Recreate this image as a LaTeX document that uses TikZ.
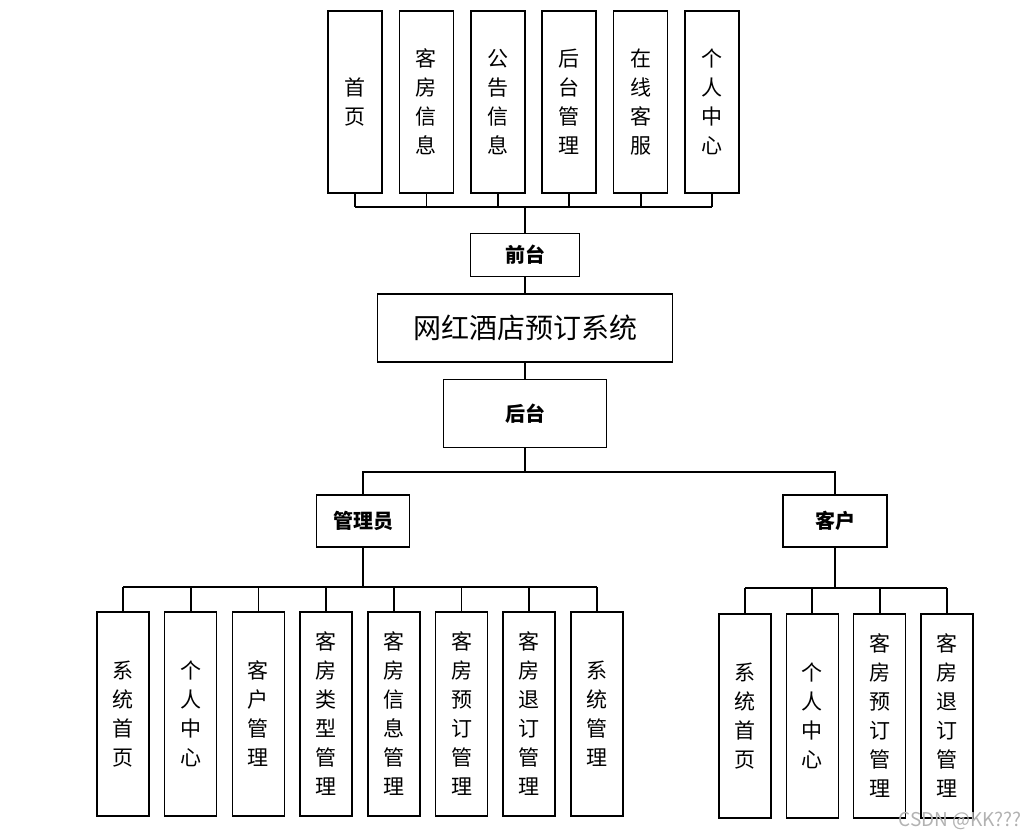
\documentclass[tikz,border=0pt]{standalone}
\usepackage{fontspec}
\setmainfont{Noto Sans CJK SC}
\usepackage{tikz}
\usetikzlibrary{positioning}
\usepackage{xcolor}

\begin{document}
\begin{tikzpicture}[
    x=1pt, y=-1pt,
    node distance=14.2pt and 14.2pt,
    boxLeaf/.style={
        rectangle,
        draw=black,
        line width=1.5pt,
        minimum width=52pt,
        minimum height=204pt,
        inner sep=0pt,
        align=center,
        font=\fontsize{21}{29}\selectfont
    },
    boxTop/.style={
        boxLeaf,
        minimum width=54pt,
        minimum height=182pt
    },
    boxRole/.style={
        rectangle,
        draw=black,
        line width=1.5pt,
        minimum height=52pt,
        inner sep=0pt,
        align=center,
        font=\bfseries\fontsize{20}{24}\selectfont
    },
    boxTitle/.style={
        rectangle,
        draw=black,
        line width=1.5pt,
        minimum width=295pt,
        minimum height=68pt,
        inner sep=0pt,
        font=\fontsize{28}{30}\selectfont
    },
    link/.style={line width=1.8pt},
    stem/.style={line width=2.8pt}
]
\useasboundingbox (0,0) rectangle (1028,838);

% Centre of the tree
\node[boxTitle] (sys) at (525,328) {网红酒店预订系统};
\node[boxRole, minimum width=109pt, minimum height=43pt, above=16pt of sys] (front) {前台};
\node[boxRole, minimum width=163pt, minimum height=68pt, below=16pt of sys] (back) {后台};

% Front row
\node[boxTop] (home) at (355,102) {首\\页};
\node[boxTop, right=15.9pt of home] (room) {客\\房\\信\\息};
\node[boxTop, right=15.9pt of room] (notice) {公\\告\\信\\息};
\node[boxTop, right=15.9pt of notice] (admin) {后\\台\\管\\理};
\node[boxTop, right=15.9pt of admin] (service) {在\\线\\客\\服};
\node[boxTop, right=15.9pt of service] (mine) {个\\人\\中\\心};

% Roles
\node[boxRole, minimum width=93pt] (mgr) at (363,521) {管理员};
\node[boxRole, minimum width=104pt] (cust) at (835,521) {客户};

% Manager row
\node[boxLeaf] (m1) at (123,714) {系\\统\\首\\页};
\node[boxLeaf, right=of m1] (m2) {个\\人\\中\\心};
\node[boxLeaf, right=of m2] (m3) {客\\户\\管\\理};
\node[boxLeaf, right=of m3] (m4) {客\\房\\类\\型\\管\\理};
\node[boxLeaf, right=of m4] (m5) {客\\房\\信\\息\\管\\理};
\node[boxLeaf, right=of m5] (m6) {客\\房\\预\\订\\管\\理};
\node[boxLeaf, right=of m6] (m7) {客\\房\\退\\订\\管\\理};
\node[boxLeaf, right=of m7] (m8) {系\\统\\管\\理};

% Customer row
\node[boxLeaf] (c1) at (745,716) {系\\统\\首\\页};
\node[boxLeaf, right=13.8pt of c1] (c2) {个\\人\\中\\心};
\node[boxLeaf, right=13.8pt of c2] (c3) {客\\房\\预\\订\\管\\理};
\node[boxLeaf, right=13.8pt of c3] (c4) {客\\房\\退\\订\\管\\理};

% Connectors
\coordinate (topbus) at (525,207);
\coordinate (rolebus) at (525,472);
\coordinate (mgrbus) at (363,587);
\coordinate (custbus) at (835,588);

\foreach \n in {home,room,notice,admin,service,mine}
    \draw[link] (\n.south) -- (\n.south |- topbus);
\draw[link] (home.south |- topbus) -- (mine.south |- topbus);
\draw[stem] (topbus) -- (front.north);
\draw[link] (front.south) -- (sys.north);
\draw[link] (sys.south) -- (back.north);
\draw[link] (back.south) -- (rolebus);
\draw[link] (mgr.north) |- (rolebus) -| (cust.north);

\draw[stem] (mgr.south) -- (mgrbus);
\foreach \n in {m1,m2,m3,m4,m5,m6,m7,m8}
    \draw[link] (\n.north) -- (\n.north |- mgrbus);
\draw[link] (m1.north |- mgrbus) -- (m8.north |- mgrbus);

\draw[stem] (cust.south) -- (custbus);
\foreach \n in {c1,c2,c3,c4}
    \draw[link] (\n.north) -- (\n.north |- custbus);
\draw[link] (c1.north |- custbus) -- (c4.north |- custbus);

% Watermark
\node[text=gray!60, font=\fontsize{19}{19}\selectfont, anchor=east, inner sep=0pt] (mark) at (1022,821) {CSDN @KK???};

\end{tikzpicture}
\end{document}
